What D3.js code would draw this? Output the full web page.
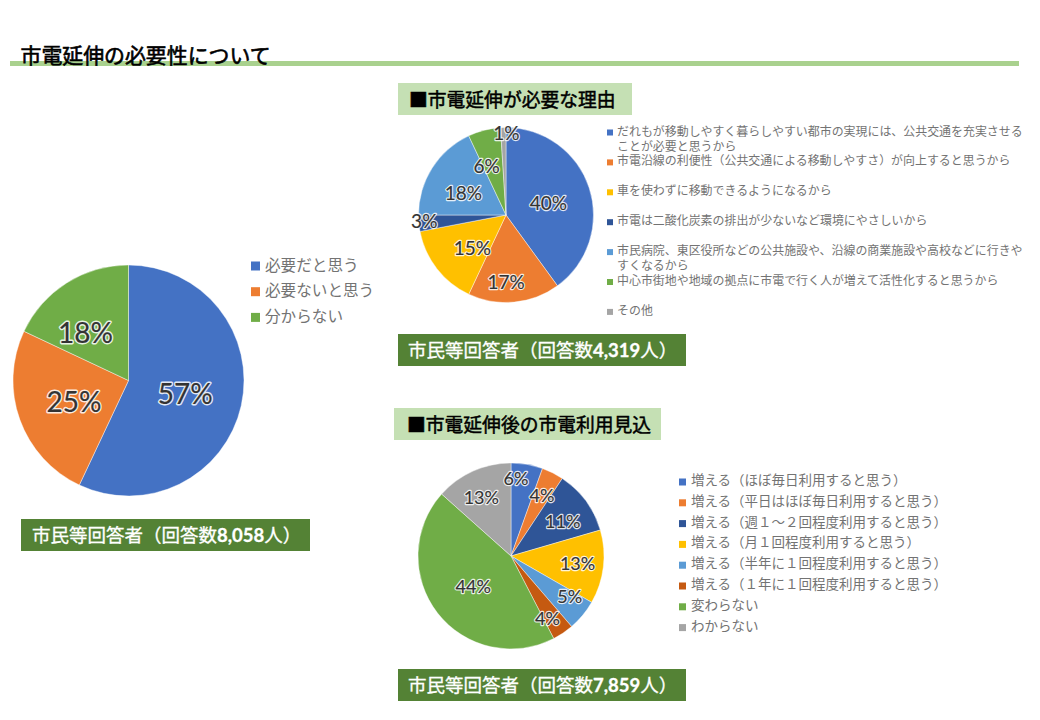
<!DOCTYPE html>
<html lang="ja">
<head>
<meta charset="utf-8">
<style>
html,body{margin:0;padding:0;background:#fff;}
svg{display:block;}
text{font-family:Lato,"Noto Sans CJK JP",sans-serif;}
</style>
<script src="https://cdn.jsdelivr.net/npm/d3@7/dist/d3.min.js"></script>
</head>
<body>
<svg id="c" width="1040" height="720"></svg>
<script>
// ---- data ----
const pageTitle = "市電延伸の必要性について";

const needCategories = ["必要だと思う","必要ないと思う","分からない"];
const needValues = [57,25,18];
const needFooter = "市民等回答者（回答数8,058人）";

const reasonTitle = "■市電延伸が必要な理由";
const reasonCategories = [
  "だれもが移動しやすく暮らしやすい都市の実現には、公共交通を充実させる\nことが必要と思うから",
  "市電沿線の利便性（公共交通による移動しやすさ）が向上すると思うから",
  "車を使わずに移動できるようになるから",
  "市電は二酸化炭素の排出が少ないなど環境にやさしいから",
  "市民病院、東区役所などの公共施設や、沿線の商業施設や高校などに行きや\nすくなるから",
  "中心市街地や地域の拠点に市電で行く人が増えて活性化すると思うから",
  "その他"
];
const reasonValues = [40,17,15,3,18,6,1];
const reasonFooter = "市民等回答者（回答数4,319人）";

const useTitle = "■市電延伸後の市電利用見込";
const useCategories = [
  "増える（ほぼ毎日利用すると思う）",
  "増える（平日はほぼ毎日利用すると思う）",
  "増える（週１～２回程度利用すると思う）",
  "増える（月１回程度利用すると思う）",
  "増える（半年に１回程度利用すると思う）",
  "増える（１年に１回程度利用すると思う）",
  "変わらない",
  "わからない"
];
const useValues = [5.5,3.8,11.2,12.8,5.4,3.7,44.2,13.4];
const useFooter = "市民等回答者（回答数7,859人）";

// ---- styling and layout ----
const needColors = ["#4472c4","#ed7d31","#70ad47"];
const reasonColors = ["#4472c4","#ed7d31","#ffc000","#2f5597","#5b9bd5","#70ad47","#a5a5a5"];
const useColors = ["#4472c4","#ed7d31","#2f5597","#ffc000","#5b9bd5","#c55a11","#70ad47","#a5a5a5"];

const svg = d3.select("#c");

function pieChart(o){
  const color = d3.scaleOrdinal().domain(o.categories).range(o.colors);
  const slices = d3.pie().sort(null).value(d => d.v)(o.categories.map((c,i)=>({c,v:o.values[i]})));
  const arc = d3.arc().innerRadius(0).outerRadius(o.r);
  const labelArc = d3.arc().innerRadius(o.labelR).outerRadius(o.labelR);
  const g = svg.append("g").attr("transform",`translate(${o.cx},${o.cy})`);
  g.selectAll("path").data(slices).join("path")
    .attr("d",arc).attr("fill",d=>color(d.data.c))
    .attr("stroke","#fff").attr("stroke-opacity",0.7).attr("stroke-width",0.6);
  const pos = (d,i)=>{
    const [x,y] = labelArc.centroid(d);
    return `translate(${x+o.nudge[i][0]},${y+o.nudge[i][1]})`;
  };
  // white halo underneath, then a slightly emboldened dark glyph on top
  g.selectAll("text.halo").data(slices).join("text").attr("class","halo")
    .attr("transform",pos).attr("text-anchor","middle").attr("dominant-baseline","central")
    .attr("font-size",o.labelSize).attr("fill","#fff")
    .attr("stroke","#fff").attr("stroke-width",o.halo).attr("stroke-opacity",0.85)
    .attr("stroke-linejoin","round")
    .text(d=>Math.round(d.data.v)+"%");
  g.selectAll("text.val").data(slices).join("text").attr("class","val")
    .attr("transform",pos).attr("text-anchor","middle").attr("dominant-baseline","central")
    .attr("font-size",o.labelSize).attr("fill","#333")
    .attr("stroke","#333").attr("stroke-width",0.2)
    .text(d=>Math.round(d.data.v)+"%");

  const rowY = d3.scaleLinear().domain([0,1]).range([o.legendY,o.legendY+o.legendStep]);
  const rows = svg.append("g").selectAll("g").data(o.categories).join("g")
    .attr("transform",(d,i)=>`translate(${o.legendX},${rowY(i)})`);
  rows.append("rect").attr("x",0).attr("y",-o.sw/2+o.swDy).attr("width",o.sw).attr("height",o.sw)
    .attr("fill",d=>color(d));
  rows.append("text").attr("font-size",o.legendSize).attr("fill","#737373")
    .attr("font-family",'"Noto Sans CJK JP",sans-serif')
    .selectAll("tspan").data(d=>d.split("\n")).join("tspan")
    .attr("x",o.textDx).attr("y",(d,i)=>i*o.lineH)
    .attr("dominant-baseline","central").text(d=>d);
}

function box(x,y,w,h,fill,label,tx,size,col,sw){
  svg.append("rect").attr("x",x).attr("y",y).attr("width",w).attr("height",h).attr("fill",fill);
  const t = svg.append("text").attr("x",tx).attr("y",y+h/2).attr("dominant-baseline","central")
    .attr("font-size",size).attr("fill",col).attr("stroke",col).attr("stroke-width",sw);
  t.selectAll("tspan").data(label.split(/([\d,]+)/)).join("tspan")
    .attr("font-weight",(d,i)=>i%2?700:400).attr("dominant-baseline","central").text(d=>d);
}

// title + rule
svg.append("rect").attr("x",10).attr("y",61).attr("width",1009).attr("height",5).attr("fill","#a9d18e");
svg.append("text").attr("x",20.5).attr("y",54).attr("dominant-baseline","central")
  .attr("font-size",20.9).attr("fill","#000").attr("stroke","#000").attr("stroke-width",0.6).text(pageTitle);

// left pie
pieChart({categories:needCategories,values:needValues,colors:needColors,
  cx:128.5,cy:380.5,r:115.5,labelR:58,labelSize:28,halo:3,
  nudge:[[0,0],[0,1],[-12,0]],
  legendX:251,legendY:264.5,legendStep:25.7,sw:9,swDy:1.5,textDx:14,legendSize:15.6,lineH:0});
box(21,519,289,32,"#548235",needFooter,32,18.5,"#fff",0.3);

// top pie
box(398,83,234,32,"#c5e0b4",reasonTitle,409,18.8,"#000",0.5);
pieChart({categories:reasonCategories,values:reasonValues,colors:reasonColors,
  cx:506,cy:215,r:87.5,labelR:54,labelSize:19,halo:2.4,
  nudge:[[-9,4],[-5,13],[9,-1],[-28,0],[3,6],[-6,3],[2,-29]],
  legendX:607,legendY:131,legendStep:29.9,sw:6,swDy:1.5,textDx:10,legendSize:11.95,lineH:15});
box(398,334,288,32,"#548235",reasonFooter,408,18.5,"#fff",0.3);

// bottom pie
box(394,408,267,32,"#c5e0b4",useTitle,407,18.8,"#000",0.5);
pieChart({categories:useCategories,values:useValues,colors:useColors,
  cx:511,cy:556,r:93,labelR:58,labelSize:18,halo:2.4,
  nudge:[[-5,-21],[5,-9],[5,-1],[9,0],[14,3],[4,14],[8,-6],[-6,-6]],
  legendX:679,legendY:480,legendStep:20.8,sw:7,swDy:2,textDx:12,legendSize:13.5,lineH:0});
box(398,669,288,32,"#548235",useFooter,408,18.5,"#fff",0.3);
</script>
</body>
</html>
